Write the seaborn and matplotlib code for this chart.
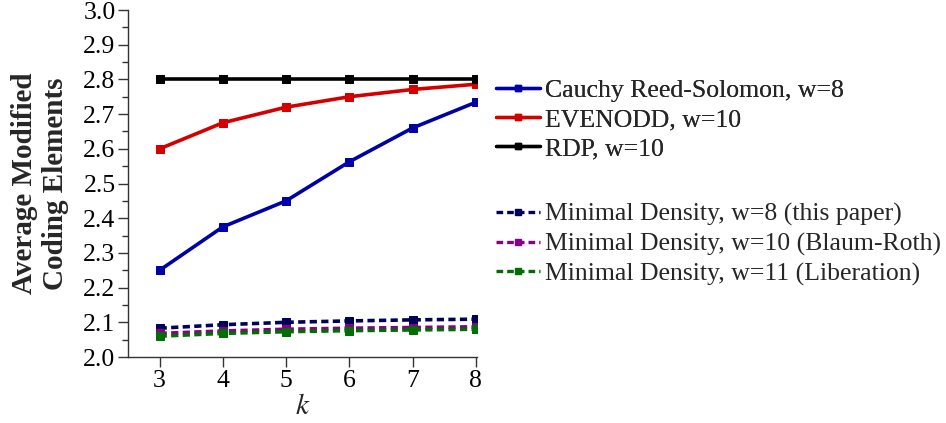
import pandas as pd
import numpy as np
import matplotlib
matplotlib.use("Agg")
import matplotlib.pyplot as plt
from matplotlib.lines import Line2D
import seaborn as sns

sns.set_style("ticks")
plt.rcParams["font.family"] = ["Liberation Serif", "DejaVu Serif"]
plt.rcParams["mathtext.fontset"] = "stix"

# ==========================
# DATA
# ==========================

k = [3, 4, 5, 6, 7, 8]

cauchy = [2.25, 2.375, 2.45, 2.5625, 2.66, 2.734]
evenodd = [2.60, 2.675, 2.72, 2.75, 2.771, 2.786]
rdp = [2.80, 2.80, 2.80, 2.80, 2.80, 2.80]
md_w8 = [2.083, 2.093, 2.100, 2.104, 2.107, 2.109]
md_w10 = [2.068, 2.075, 2.080, 2.083, 2.085, 2.087]
md_w11 = [2.060, 2.068, 2.073, 2.076, 2.078, 2.080]

names = [
    "Cauchy Reed-Solomon, w=8",
    "EVENODD, w=10",
    "RDP, w=10",
    "Minimal Density, w=8 (this paper)",
    "Minimal Density, w=10 (Blaum-Roth)",
    "Minimal Density, w=11 (Liberation)",
]
series = [cauchy, evenodd, rdp, md_w8, md_w10, md_w11]
colors = ["#0000a8", "#d40000", "#000000", "#00005a", "#880088", "#006e00"]
dashed = [False, False, False, True, True, True]

# ==========================
# PLOT
# ==========================

fig = plt.figure(figsize=(9.46, 4.23), dpi=100)
ax = fig.add_axes([128 / 946, 1 - 357 / 423, (477 - 128) / 946, (357 - 10) / 423])

handles = []
for name, vals, col, dash in zip(names, series, colors, dashed):
    ls = (0, (2.0, 1.2)) if dash else "-"
    sns.lineplot(x=k, y=vals, ax=ax, color=col, linewidth=2.6,
                 linestyle=ls, marker="s", markersize=5.8,
                 markeredgecolor=col, markerfacecolor=col, zorder=3)
    handles.append(Line2D([], [], color=col, linewidth=2.4, linestyle=ls,
                          marker="s", markersize=4.5, markeredgecolor=col,
                          markerfacecolor=col))

ax.set_xlim(2.5, 8.02)
ax.set_ylim(2.0, 3.0)
ax.set_xticks(k)
ax.set_yticks(np.arange(2.0, 3.01, 0.1))
ax.set_yticks(np.arange(2.05, 3.0, 0.1), minor=True)
ax.yaxis.set_major_formatter(matplotlib.ticker.FormatStrFormatter("%.1f"))
ax.tick_params(axis="both", which="major", labelsize=18.5, length=7, width=1,
               direction="out", colors="#333333", labelcolor="black", pad=2)
ax.tick_params(axis="y", which="minor", length=4, width=1, colors="#333333")
for s in ["top", "right"]:
    ax.spines[s].set_visible(False)
for s in ["left", "bottom"]:
    ax.spines[s].set_color("#333333")
    ax.spines[s].set_linewidth(1)

ax.set_xlabel("$k$", fontsize=21, labelpad=2)
ax.set_ylabel("Average Modified\nCoding Elements", fontsize=21,
              fontweight="bold", labelpad=10, linespacing=1.2)

# two legend groups: classic codes, then minimal density codes
leg_opts = dict(loc="upper left", frameon=False, fontsize=18.5,
                handlelength=1.7, handletextpad=0.22, labelspacing=0.24,
                borderaxespad=0, borderpad=0)
leg1 = fig.legend(handles[:3], names[:3],
                  bbox_to_anchor=(496 / 946, 1 - 79 / 423), **leg_opts)
fig.add_artist(leg1)
fig.legend(handles[3:], names[3:],
           bbox_to_anchor=(496 / 946, 1 - 203 / 423), **leg_opts)

fig.savefig("out.png", dpi=100)
